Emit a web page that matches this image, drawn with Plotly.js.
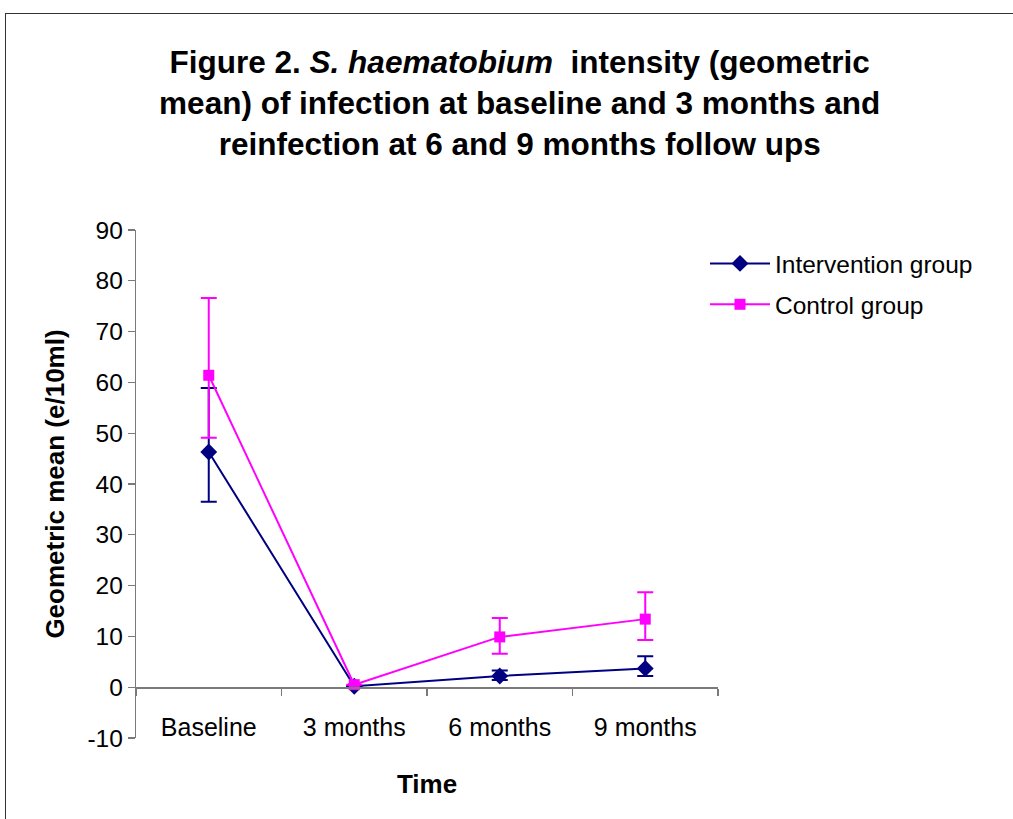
<!DOCTYPE html>
<html>
<head>
<meta charset="utf-8">
<script src="https://cdn.plot.ly/plotly-3.0.1.min.js"></script>
<style>
  html, body { margin: 0; padding: 0; background: #fff; overflow: hidden; }
  #chart { width: 1013px; height: 819px; }
  #frame { position: absolute; left: 5px; top: 13px; width: 1100px; height: 900px;
           border-left: 1.5px solid #333; border-top: 1.5px solid #333; pointer-events: none; }
</style>
</head>
<body>
<div id="chart"></div>
<div id="frame"></div>
<script>
const categories = ["Baseline", "3 months", "6 months", "9 months"];

const interventionMean  = [46.3, 0.2, 2.2, 3.7];
const interventionUpper = [58.9, 0.2, 3.3, 6.1];
const interventionLower = [36.5, 0.2, 1.4, 2.2];

const controlMean  = [61.4, 0.5, 9.9, 13.4];
const controlUpper = [76.6, 0.5, 13.6, 18.7];
const controlLower = [49.1, 0.5, 6.6, 9.3];

const yTicks = [-10, 0, 10, 20, 30, 40, 50, 60, 70, 80, 90];

const FONT = "Liberation Sans, Arial, sans-serif";

function errPlus(mean, up) { return mean.map((m, i) => up[i] - m); }
function errMinus(mean, lo) { return mean.map((m, i) => m - lo[i]); }

const traces = [
  {
    x: categories, y: interventionMean, type: "scatter", mode: "lines+markers",
    name: "Intervention group", legendgroup: "a",
    line: { color: "#000080", width: 2 },
    marker: { symbol: "diamond", size: 13, color: "#000080" },
    error_y: { type: "data", symmetric: false,
               array: errPlus(interventionMean, interventionUpper),
               arrayminus: errMinus(interventionMean, interventionLower),
               color: "#000080", thickness: 2, width: 8 }
  },
  {
    x: categories, y: controlMean, type: "scatter", mode: "lines+markers",
    name: "Control group", legendgroup: "b",
    line: { color: "#FF00FF", width: 2 },
    marker: { symbol: "square", size: 11, color: "#FF00FF" },
    error_y: { type: "data", symmetric: false,
               array: errPlus(controlMean, controlUpper),
               arrayminus: errMinus(controlMean, controlLower),
               color: "#FF00FF", thickness: 2, width: 8 }
  }
];

const layout = {
  width: 1013, height: 819,
  paper_bgcolor: "#fff", plot_bgcolor: "#fff",
  margin: { l: 136, r: 295, t: 230, b: 81, autoexpand: false },
  font: { family: FONT, color: "#000" },
  title: {
    text: "Figure 2. <i>S. haematobium</i>  intensity (geometric<br>mean) of infection at baseline and 3 months and<br>reinfection at 6 and 9 months follow ups",
    font: { family: FONT, size: 31.5, color: "#000", weight: "bold" },
    x: 0.513, xref: "container", xanchor: "center",
    y: 1 - 73 / 819, yref: "container", yanchor: "middle"
  },
  xaxis: {
    type: "category", range: [-0.5, 3.5],
    anchor: "free", position: 0.1,
    showline: true, linecolor: "#7a7a7a", linewidth: 1.3,
    ticks: "outside", tickson: "boundaries", ticklen: 7, tickcolor: "#7a7a7a", tickwidth: 1.3,
    showgrid: false, zeroline: false,
    tickfont: { family: FONT, size: 25, color: "#000" },
    ticklabelstandoff: 17,
    title: { text: "<b>Time</b>", font: { family: FONT, size: 26, color: "#000" }, standoff: 35 },
    fixedrange: true
  },
  yaxis: {
    range: [-10, 90], tickvals: yTicks, ticktext: yTicks.map(String),
    showline: true, linecolor: "#7a7a7a", linewidth: 1.3,
    ticks: "outside", ticklen: 7, tickcolor: "#7a7a7a", tickwidth: 1.3,
    showgrid: false, zeroline: false,
    tickfont: { family: FONT, size: 24.5, color: "#000" },
    title: { text: "<b>Geometric mean (e/10ml)</b>", font: { family: FONT, size: 26, color: "#000" }, standoff: 15 },
    fixedrange: true
  },
  showlegend: true,
  legend: {
    x: 705 / 1013, xref: "container", xanchor: "left",
    y: 1 - 241 / 819, yref: "container", yanchor: "top",
    font: { family: FONT, size: 24.5, color: "#000" },
    traceorder: "grouped", tracegroupgap: 6,
    itemwidth: 60,
    bgcolor: "rgba(0,0,0,0)", borderwidth: 0
  }
};

Plotly.newPlot("chart", traces, layout, { displayModeBar: false, staticPlot: true });
</script>
</body>
</html>
